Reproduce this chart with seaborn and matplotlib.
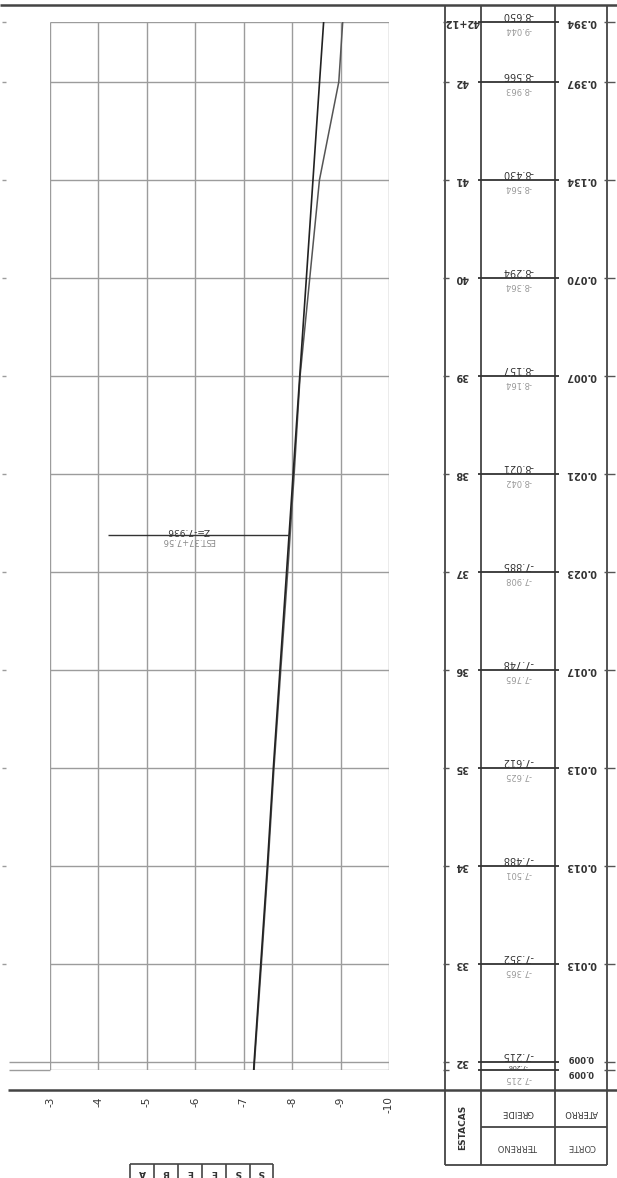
"""
Perfil longitudinal (rotacionado)
"""
import numpy as np
import pandas as pd
import matplotlib.pyplot as plt
import seaborn as sns

# estacas (em unidades de estaca de 20 m), de baixo para cima
stations = [31.92, 32, 33, 34, 35, 36, 37, 38, 39, 40, 41, 42, 42.61]
station_labels = ['', '32', '33', '34', '35', '36', '37', '38', '39', '40', '41', '42', '42+12']
greide = [-7.206, -7.215, -7.352, -7.488, -7.612, -7.748, -7.885, -8.021,
          -8.157, -8.294, -8.430, -8.566, -8.650]
terreno = [-7.215, -7.224, -7.365, -7.501, -7.625, -7.765, -7.908, -8.042,
           -8.164, -8.364, -8.564, -8.963, -9.044]
aterro = [0.009, 0.009, 0.013, 0.013, 0.013, 0.017, 0.023, 0.021,
          0.007, 0.070, 0.134, 0.397, 0.394]
cotas = [-3, -4, -5, -6, -7, -8, -9, -10]
piv_station = 37.378
piv_cota = -7.936
piv_labels = ['Z=-7.936', 'EST.37+7.56']

df = pd.DataFrame({'estaca': stations, 'greide': greide, 'terreno': terreno})

sns.set_theme(style='white')
plt.rcParams['font.family'] = ['DejaVu Sans']

W, H = 617, 1178
fig = plt.figure(figsize=(W / 100, H / 100), dpi=100)

# overlay in pixel coordinates for the frame / table borders
ov = fig.add_axes([0, 0, 1, 1])
ov.set_xlim(0, W)
ov.set_ylim(H, 0)
ov.axis('off')
ov.patch.set_visible(False)

# main plot area
top_px, bot_px = 22.2, 1069.8
ax = fig.add_axes([50 / W, (H - bot_px) / H, 339 / W, (bot_px - top_px) / H])
ax.patch.set_visible(False)
for s in ax.spines.values():
    s.set_visible(False)
ax.set_xlim(-3, -10)
ax.set_ylim(stations[0], stations[-1])

grid_c = '#9c9c9c'
ax.vlines(cotas, stations[0], stations[-1], color=grid_c, lw=1.0)
ax.hlines(stations, -3, -10, color=grid_c, lw=1.0)
# short extension of the grid rows to the left edge
ax.hlines(stations[:2], -2.15, -3, color=grid_c, lw=1.0, clip_on=False)
ax.hlines(stations[2:], -2.0, -2.1, color=grid_c, lw=1.0, clip_on=False)

sns.lineplot(data=df, x='terreno', y='estaca', orient='y', ax=ax, color='#555555', lw=1.1)
sns.lineplot(data=df, x='greide', y='estaca', orient='y', ax=ax, color='#222222', lw=1.2)

# PIV annotation
ax.hlines(piv_station, -4.2, piv_cota, color='#333333', lw=1.0)
ax.text(-5.85, piv_station + 0.05, piv_labels[0], rotation=180, ha='center', va='center',
        fontsize=6.5, color='#333333')
ax.text(-5.85, piv_station - 0.06, piv_labels[1], rotation=180, ha='center', va='center',
        fontsize=6, color='#888888')

ax.set_xticks(cotas)
ax.set_xticklabels([str(c) for c in cotas], rotation=90, fontsize=7.5, color='#333333')
ax.tick_params(axis='x', length=0, pad=19)
ax.set_yticks([])
ax.set_xlabel('')
ax.set_ylabel('')

# table axes sharing the stations
axt = fig.add_axes([445 / W, (H - bot_px) / H, 162 / W, (bot_px - top_px) / H], sharey=ax)
axt.patch.set_visible(False)
axt.axis('off')
axt.set_xlim(0, 162)
axt.hlines(stations, 33, 114, color='#333333', lw=1.3, clip_on=False)
axt.hlines(stations, -2, 4, color='#555555', lw=1.0, clip_on=False)
axt.hlines(stations, 159, 170, color='#555555', lw=1.0, clip_on=False)
for i, (s, lab, g, t, a) in enumerate(zip(stations, station_labels, greide, terreno, aterro)):
    if lab:
        axt.text(17, s, lab, rotation=180, ha='center', va='center',
                 fontsize=7, fontweight='bold', color='#333333')
    if i == 0:
        # start point: crowded cell, greide between the two lines
        axt.text(73, s + 0.04, f'{g:.3f}', rotation=180, ha='center', va='center',
                 fontsize=4.5, color='#333333')
        axt.text(73, s - 0.085, f'{t:.3f}', rotation=180, ha='center', va='center',
                 fontsize=6, color='#999999')
        axt.text(136, s - 0.03, f'{a:.3f}', rotation=180, ha='center', va='center',
                 fontsize=6, fontweight='bold', color='#333333')
        continue
    axt.text(73, s + 0.075, f'{g:.3f}', rotation=180, ha='center', va='center',
             fontsize=7, color='#333333')
    if i > 1:
        axt.text(73, s - 0.075, f'{t:.3f}', rotation=180, ha='center', va='center',
                 fontsize=6, color='#999999')
    if i == 1:
        axt.text(136, s + 0.045, f'{a:.3f}', rotation=180, ha='center', va='center',
                 fontsize=6, fontweight='bold', color='#333333')
    else:
        axt.text(136, s, f'{a:.3f}', rotation=180, ha='center', va='center',
                 fontsize=7, fontweight='bold', color='#333333')

# frame and table borders
line_c = '#444444'
ov.hlines(5, 0, 617, color=line_c, lw=1.8)
ov.hlines(1090, 8, 617, color=line_c, lw=1.8)
ov.vlines([445, 481, 555, 607], 5, 1165, color=line_c, lw=1.3)
ov.hlines(1127, 481, 607, color=line_c, lw=1.3)
ov.hlines(1165, 445, 607, color=line_c, lw=1.3)
ov.text(463, 1127, 'ESTACAS', rotation=90, ha='center', va='center', fontsize=6.5,
        fontweight='bold', color='#333333')
ov.text(518, 1112, 'GREIDE', rotation=180, ha='center', va='center', fontsize=6, color='#333333')
ov.text(518, 1147, 'TERRENO', rotation=180, ha='center', va='center', fontsize=6, color='#444444')
ov.text(581, 1112, 'ATERRO', rotation=180, ha='center', va='center', fontsize=6, color='#333333')
ov.text(581, 1147, 'CORTE', rotation=180, ha='center', va='center', fontsize=6, color='#444444')

# small boxed title at the bottom
box_x = [130, 154, 178, 202, 226, 250, 273]
box_txt = ['A', 'B', 'E', 'E', 'S', 'S']
ov.hlines(1164, box_x[0], box_x[-1], color=line_c, lw=1.2)
ov.vlines(box_x, 1164, 1178, color=line_c, lw=1.2)
for x0, x1, c in zip(box_x[:-1], box_x[1:], box_txt):
    ov.text((x0 + x1) / 2, 1172, c, rotation=180, ha='center', va='center',
            fontsize=6.5, fontweight='bold', color='#333333')

fig.savefig('out.png', dpi=100)
